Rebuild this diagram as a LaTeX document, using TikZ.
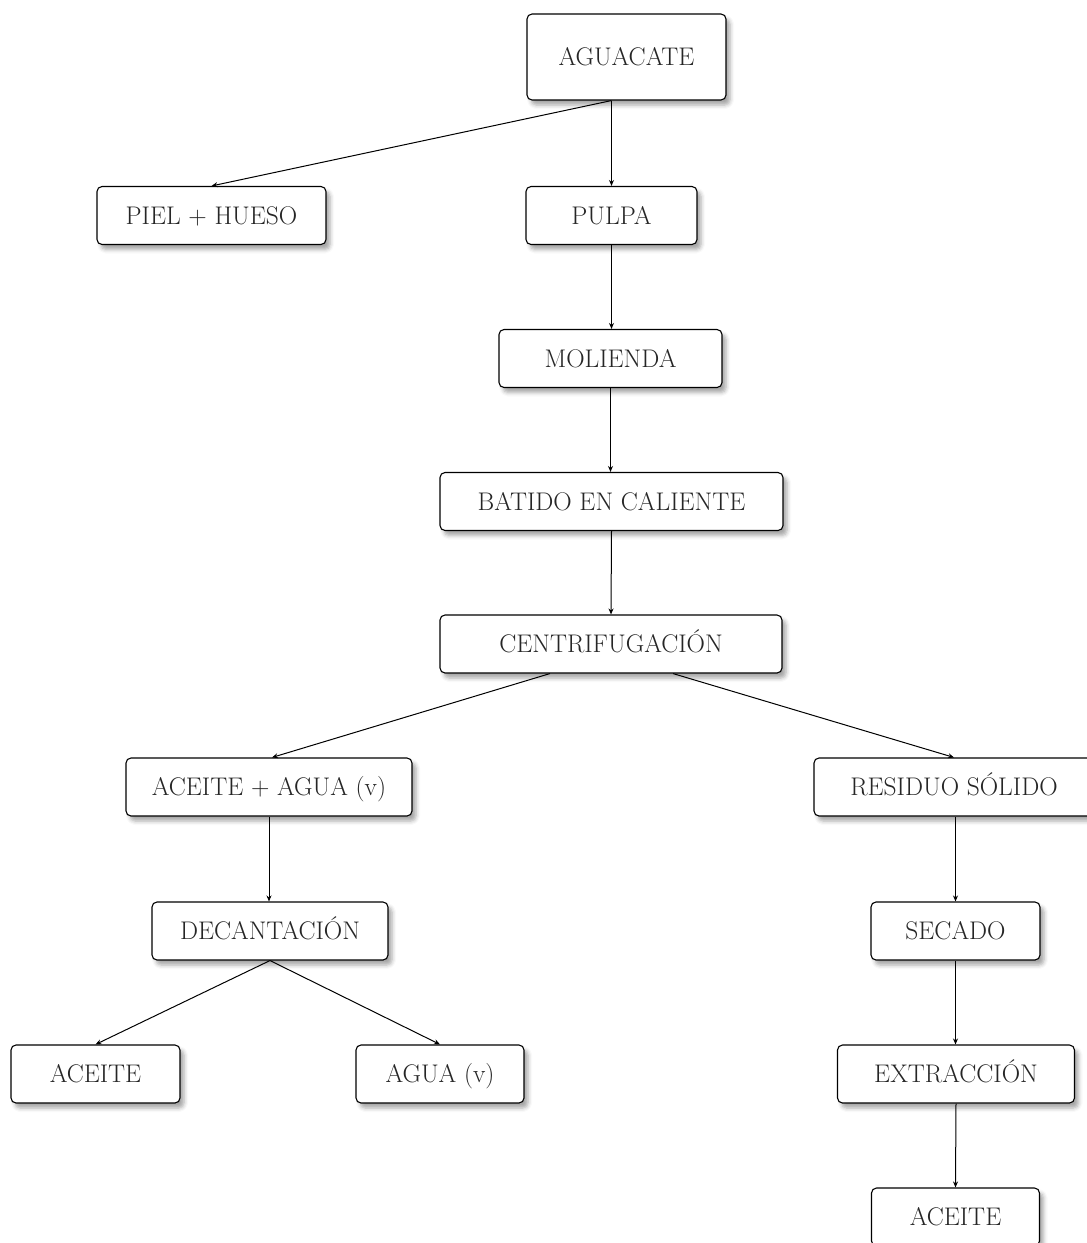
\documentclass[tikz,border=0pt]{standalone}
\usepackage{tikz}
\usetikzlibrary{arrows.meta,shadows.blur}

\begin{document}
\begin{tikzpicture}[x=1pt,y=-1pt]
\tikzstyle{paso}=[draw=black, line width=1.1pt, rounded corners=5pt, fill=white,
  minimum height=58pt, inner sep=0pt, text=black!85,
  font=\fontsize{25.5}{30}\selectfont, text height=17.4pt, text depth=0pt,
  blur shadow={shadow xshift=4pt, shadow yshift=-5pt, shadow blur radius=4pt, shadow opacity=35}]
\tikzstyle{flecha}=[line width=1pt, -{Stealth[length=6pt,width=5pt]}]
\useasboundingbox (0,0) rectangle (1087,1243);
% cajas
\node [paso, minimum width=199pt, minimum height=86pt] (aguacate) at (626.5,57) {AGUACATE};
\node [paso, minimum width=229pt] (piel) at (211.5,215.5) {PIEL + HUESO};
\node [paso, minimum width=171pt] (pulpa) at (611.5,215.5) {PULPA};
\node [paso, minimum width=223pt] (molienda) at (610.5,358.5) {MOLIENDA};
\node [paso, minimum width=343pt] (batido) at (611.5,501.5) {BATIDO EN CALIENTE};
\node [paso, minimum width=342pt] (centrif) at (611,644) {CENTRIFUGACIÓN};
\node [paso, minimum width=286pt] (aceiteagua) at (269,787) {ACEITE + AGUA (v)};
\node [paso, minimum width=280pt] (residuo) at (954,787) {RESIDUO SÓLIDO};
\node [paso, minimum width=236pt] (decant) at (270,931) {DECANTACIÓN};
\node [paso, minimum width=169pt] (secado) at (955.5,931) {SECADO};
\node [paso, minimum width=169pt] (aceiteA) at (95.5,1074) {ACEITE};
\node [paso, minimum width=168pt] (agua) at (440,1074) {AGUA (v)};
\node [paso, minimum width=237pt] (extr) at (956,1074) {EXTRACCIÓN};
\node [paso, minimum width=168pt] (aceiteB) at (955.5,1217) {ACEITE};
% flechas
\draw [flecha] (aguacate.south -| pulpa.north) -- (pulpa.north);
\draw [flecha] (aguacate.south -| pulpa.north) -- (piel.north);
\draw [flecha] (pulpa.south) -- (pulpa.south |- molienda.north);
\draw [flecha] (molienda.south) -- (molienda.south |- batido.north);
\draw [flecha] (batido.south) -- (centrif.north);
\draw [flecha] ([xshift=-61pt]centrif.south) -- ([xshift=3pt]aceiteagua.north);
\draw [flecha] ([xshift=62pt]centrif.south) -- (residuo.north);
\draw [flecha] (aceiteagua.south) -- (aceiteagua.south |- decant.north);
\draw [flecha] (decant.south) -- (aceiteA.north);
\draw [flecha] (decant.south) -- (agua.north);
\draw [flecha] (secado.north |- residuo.south) -- (secado.north);
\draw [flecha] (secado.south) -- (secado.south |- extr.north);
\draw [flecha] (extr.south) -- (aceiteB.north);
\end{tikzpicture}
\end{document}
